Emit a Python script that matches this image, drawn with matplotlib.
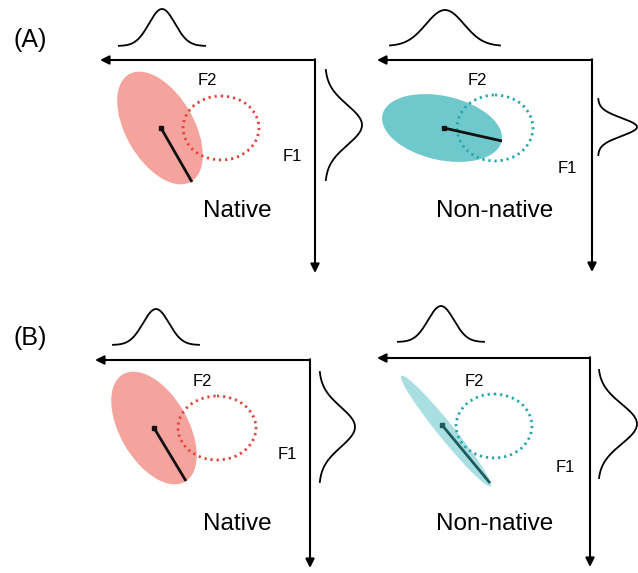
import numpy as np
import matplotlib
matplotlib.use("Agg")
import matplotlib.pyplot as plt
from matplotlib.patches import Ellipse

plt.rcParams['font.family'] = ['Liberation Sans', 'DejaVu Sans']

# Four panels: (A) native / non-native, (B) native / non-native
panel_tags = ["(A)", "(B)"]
group_names = ["Native", "Non-native", "Native", "Non-native"]
fill_colors = ["#f4a39d", "#6fc9cc", "#f4a39d", "#a9dfe0"]
ring_colors = ["#e3433c", "#25a6ad", "#e3433c", "#25a6ad"]
line_colors = ["#111111", "#111111", "#111111", "#1f5b5e"]

# Axis corners (F2 runs leftwards, F1 runs downwards) and arrow tips
corner_x = [315, 592, 310, 590]
corner_y = [60, 60, 360, 358]
f2_tip_x = [100, 377, 95, 377]
f1_tip_y = [273, 272, 568, 567]

# Category distribution: filled ellipse (centre, semi-axes, tilt in degrees)
ell_cx = [160, 442, 154, 446]
ell_cy = [128, 128, 428, 431]
ell_a = [62, 61, 62, 71]
ell_b = [34, 32, 34, 8]
ell_ang = [60, 12.6, 60, 51]

# Mean marker and the line from it to the category edge
mean_x = [161, 444, 154, 442]
mean_y = [128, 128, 428, 425]
edge_x = [192, 502, 186, 490]
edge_y = [182, 141, 481, 483]

# Competing category (dotted ring)
ring_cx = [221, 495, 217, 494]
ring_cy = [128, 128, 428, 426]
ring_rx = [38, 38, 39, 38]
ring_ry = [32, 33, 32, 32]

# Marginal distribution along F2 (top curve)
top_mu = [162, 445, 156, 441]
top_sd = [13, 19, 13, 13]
top_half = [43, 55, 43, 43]
top_base = [46, 46, 345, 342]
top_peak = [37, 36, 36, 36]

# Marginal distribution along F1 (curve to the right of each panel)
side_mu = [125, 127, 427, 424]
side_sd = [20, 9, 20, 20]
side_half = [55, 28, 55, 54]
side_base = [325, 598, 319, 598]
side_peak = [37, 39, 36, 39]

# Text placement
f2_lab = [(207, 85), (477, 85), (202, 386), (474, 386)]
f1_lab = [(292, 161), (567, 173), (287, 459), (565, 472)]
name_lab = [(237, 217), (495, 217), (237, 530), (495, 530)]
tag_pos = [(30, 47), (30, 345)]

W, H = 638, 573
fig = plt.figure(figsize=(W / 100, H / 100), dpi=100)
ax = fig.add_axes([0, 0, 1, 1])
ax.set_xlim(0, W)
ax.set_ylim(H, 0)
ax.axis("off")

for i in range(4):
    # axes with arrowheads
    ax.annotate("", xy=(f2_tip_x[i], corner_y[i]), xytext=(corner_x[i], corner_y[i]),
                arrowprops=dict(arrowstyle="-|>", color="black", lw=1.5,
                                mutation_scale=13, shrinkA=0, shrinkB=0))
    ax.annotate("", xy=(corner_x[i], f1_tip_y[i]), xytext=(corner_x[i], corner_y[i] - 0.8),
                arrowprops=dict(arrowstyle="-|>", color="black", lw=1.5,
                                mutation_scale=13, shrinkA=0, shrinkB=0))

    # filled category ellipse
    ax.add_patch(Ellipse((ell_cx[i], ell_cy[i]), 2 * ell_a[i], 2 * ell_b[i],
                         angle=ell_ang[i], facecolor=fill_colors[i],
                         edgecolor="none", zorder=2))
    # dotted ring
    ax.add_patch(Ellipse((ring_cx[i], ring_cy[i]), 2 * ring_rx[i], 2 * ring_ry[i],
                         facecolor="none", edgecolor=ring_colors[i], lw=2.0,
                         linestyle=(0, (0.8, 1.4)), zorder=3))
    # mean marker and line
    ax.plot([mean_x[i], edge_x[i]], [mean_y[i], edge_y[i]],
            color=line_colors[i], lw=2.0, solid_capstyle="butt", zorder=4)
    ax.plot(mean_x[i], mean_y[i], marker="s", ms=3.2, color=line_colors[i], zorder=5)

    # marginal curves
    t = np.linspace(-top_half[i], top_half[i], 200)
    ax.plot(top_mu[i] + t, top_base[i] - top_peak[i] * np.exp(-0.5 * (t / top_sd[i]) ** 2),
            color="black", lw=1.3)
    s = np.linspace(-side_half[i], side_half[i], 200)
    ax.plot(side_base[i] + side_peak[i] * np.exp(-0.5 * (s / side_sd[i]) ** 2), side_mu[i] + s,
            color="black", lw=1.3)

    # labels
    ax.text(*f2_lab[i], "F2", fontsize=12, ha="center", va="baseline")
    ax.text(*f1_lab[i], "F1", fontsize=12, ha="center", va="baseline")
    ax.text(*name_lab[i], group_names[i], fontsize=17.5, ha="center", va="baseline")

for tag, pos in zip(panel_tags, tag_pos):
    ax.text(*pos, tag, fontsize=18, ha="center", va="baseline")

fig.savefig("out.png", dpi=100, facecolor="white")
